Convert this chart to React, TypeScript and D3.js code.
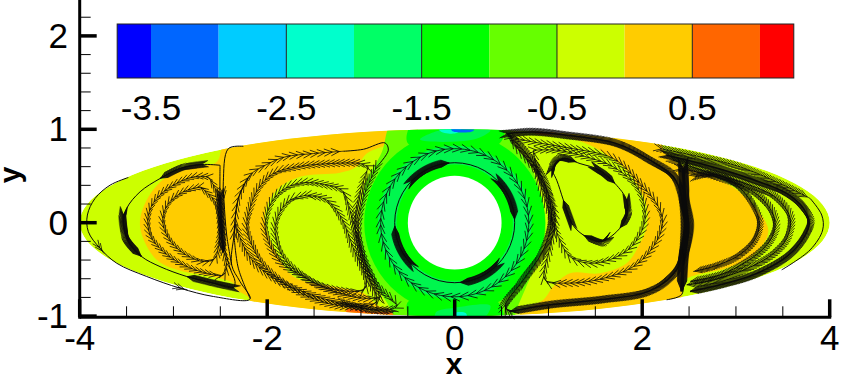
import React, { useEffect, useRef } from 'react';
import * as d3 from 'd3';

type Pt = [number, number];

const WIDTH = 850;
const HEIGHT = 378;

// colour bar
const levelEdges = [-3.75, -3.5, -3, -2.5, -2, -1.5, -1, -0.5, 0, 0.5, 1, 1.25];
const levelColors = ['#0000ff', '#0066ff', '#00ccff', '#00ffcc', '#00ff66', '#00ff00', '#66ff00', '#ccff00', '#ffcc00', '#ff6600', '#ff0000'];
const ringMid = '#00f64e';
const barLabels = [-3.5, -2.5, -1.5, -0.5, 0.5];
const barLines = [-2.5, -1.5, -0.5, 0.5];

// axes
const xMajor = [-4, -2, 0, 2, 4];
const xMinor = [-3.5, -3, -2.5, -1.5, -1, -0.5, 0.5, 1, 1.5, 2.5, 3, 3.5];
const yMajor = [-1, 0, 1, 2];
const yMinor = [-0.8, -0.6, -0.4, -0.2, 0.2, 0.4, 0.6, 0.8, 1.2, 1.4, 1.6, 1.8, 2.2];

// contour bands
const orangeLeft: Pt[] = [[-2.539, .651], [-2.432, .882], [-.405, 1.13], [-.405, .971], [-.939, .74], [-1.045, .598], [-1.223, .534], [-1.65, .491], [-1.899, .349], [-2.023, .1], [-2.005, -.078], [-1.899, -.327], [-1.721, -.576], [-1.294, -.683], [-.974, -.754], [-.832, -.879], [-.548, -1.003], [-.583, -1.18], [-2.29, -1.18], [-2.183, -.825], [-2.325, -.719], [-2.361, -.647], [-2.681, -.559], [-2.894, -.523], [-3.179, -.398], [-3.356, -.043], [-3.285, .242], [-3.072, .491], [-2.788, .598]];
const orangeRight: Pt[] = [[.945, -.825], [1.052, -.683], [1.23, -.541], [1.55, -.541], [1.834, -.434], [1.977, -.221], [2.048, -.043], [2.048, .171], [1.977, .349], [1.834, .562], [1.656, .704], [1.443, .829], [1.194, .918], [.839, .96], [.65, 1.1], [2.19, .95], [2.226, .776], [2.421, .616], [2.617, .545], [2.937, .402], [3.186, .189], [3.346, -.095], [3.186, -.345], [2.901, -.487], [2.581, -.558], [2.439, -.629], [2.421, -.807], [2.368, -.95], [2, -1.1], [.8, -1.1], [.697, -.968]];
const redBottom: Pt[] = [[-1.15, -.93], [-.9, -.95], [-.62, -.985], [-.6, -1.1], [-1.1, -1.1]];
const redTop: Pt[] = [[.78, .99], [1.05, .95], [1.1, 1.05], [.8, 1.05]];
const limeAroundRing: Pt[] = [[-.64, 1.1], [-.78, .75], [-.95, .42], [-1.01, 0], [-.97, -.38], [-.85, -.65], [-.72, -.86], [-.55, -1.1], [.6, -1.1], [.66, -.93], [.8, -.6], [.93, -.3], [.97, 0], [.92, .3], [.8, .62], [.62, .85], [.55, 1.1]];
const greenTop: Pt[] = [[-.42, 1.1], [-.5, .85], [.48, .85], [.5, 1.1]];
const greenBottom: Pt[] = [[-.42, -1.1], [-.5, -.85], [.46, -.85], [.5, -1.1]];
const paleTop: Pt[] = [[-.37, .89], [-.15, .99], [.38, .99], [.2, .89]];
const paleBottom: Pt[] = [[-.2, -.96], [0, -.91], [.38, -.89], [.28, -1.05], [-.2, -1.05]];
const cyanTop: Pt[] = [[-.16, .985], [.02, .96], [.1, 1.05], [-.16, 1.05]];
const blueTop: Pt[] = [[-.03, .985], [.2, .985], [.2, 1.05], [-.03, 1.05]];
const cyanBottom: Pt[] = [[0, -.97], [.12, -.97], [.12, -1.05], [0, -1.05]];

// ring bands round the hole, outer radius
const ringOuterBand = 0.965;
const ringMidBand = 0.82;
const ringInnerBand = 0.62;
const holeRadius = 0.5;
const ellipseAxes: Pt = [4, 1];

// streamlines
const l1: Pt[] = [[-3.481, .484], [-3.676, .402], [-3.836, .26], [-3.918, .082], [-3.908, -.096], [-3.783, -.274], [-3.605, -.434], [-3.285, -.576], [-2.93, -.701], [-2.574, -.79], [-2.183, -.818], [-2.29, -.63], [-2.379, -.452], [-2.354, -.132], [-2.308, .26], [-2.183, .509]];
const l1b: Pt[] = [[-2.379, -.452], [-2.432, -.132], [-2.46, .224], [-2.468, .438], [-2.414, .793], [-2.254, .818]];
const l2: Pt[] = [[-2.503, .615], [-2.699, .623], [-2.93, .58], [-3.143, .473], [-3.356, .331], [-3.499, .153], [-3.534, -.007], [-3.481, -.203], [-3.339, -.363], [-3.143, -.47], [-2.859, -.576], [-2.574, -.647], [-2.361, -.694], [-2.343, -.63], [-2.396, -.487], [-2.485, -.132], [-2.503, .224], [-2.503, .615]];
const l2TopBlob: Pt[] = [[-2.699, .623], [-2.93, .58], [-3.143, .473]];
const l2LeftBlob: Pt[] = [[-3.534, .09], [-3.534, -.007], [-3.481, -.203], [-3.339, -.363]];
const l2BottomBlob: Pt[] = [[-2.361, -.694], [-2.574, -.647], [-2.859, -.576]];
const l3: Pt[] = [[-2.628, .491], [-2.788, .491], [-3.001, .402], [-3.179, .26], [-3.268, .082], [-3.25, -.132], [-3.108, -.31], [-2.894, -.452], [-2.645, -.541], [-2.468, -.559], [-2.432, -.47], [-2.468, -.274], [-2.485, .011], [-2.539, .331], [-2.628, .491]];
const l4: Pt[] = [[-2.716, .384], [-2.894, .331], [-3.054, .206], [-3.115, .028], [-3.054, -.167], [-2.894, -.327], [-2.681, -.416], [-2.556, -.381], [-2.521, -.238], [-2.503, -.025], [-2.556, .224], [-2.716, .384]];
const leftColumn: Pt[] = [[-2.5, .3], [-2.49, 0], [-2.47, -.32]];
const loneArrows: Pt[][] = [
  [[-3.8, -.25], [-3.74, -.33]],
  [[-2.95, -.69], [-2.85, -.72]],
  [[-2.47, .33], [-2.46, .26]],
];

const m1Start: Pt[] = [[-2.183, -.808], [-2.308, -.487], [-2.354, -.132]];
const m1Head: Pt[] = [[-1.188, .765], [-.974, .786], [-.743, .854], [-.708, .776], [-.832, .598]];
const m1: Pt[] = [[-2.354, -.132], [-2.308, .26], [-2.183, .509], [-2.005, .623], [-1.81, .704], [-1.508, .74], [-1.188, .765]];
const m1Tail: Pt[] = [[-.832, .598], [-.939, .366], [-1.01, .117], [-1.028, -.132], [-.974, -.381], [-.832, -.665], [-.619, -.896], [-.832, -.932], [-1.223, -.861], [-1.579, -.754], [-1.899, -.612], [-2.148, -.416], [-2.272, -.203], [-2.343, .011]];
const m2: Pt[] = [[-.921, .598], [-1.01, .633], [-1.33, .633], [-1.685, .598], [-1.934, .527], [-2.094, .366], [-2.183, .153], [-2.219, -.06], [-2.148, -.274], [-2.041, -.452], [-1.792, -.665], [-1.472, -.825], [-1.152, -.896], [-.832, -.843], [-.885, -.665], [-.992, -.381], [-1.063, -.025], [-1.028, .26], [-.921, .598]];
const m3: Pt[] = [[-1.152, .26], [-1.205, .349], [-1.365, .402], [-1.614, .43], [-1.81, .366], [-1.952, .224], [-2.023, -.025], [-1.988, -.203], [-1.863, -.416], [-1.65, -.559], [-1.33, -.719], [-.974, -.808], [-.796, -.79], [-.832, -.701], [-.956, -.416], [-1.063, -.06], [-1.152, .26]];
const m4: Pt[] = [[-1.579, .295], [-1.756, .242], [-1.863, .117], [-1.917, -.06], [-1.863, -.31], [-1.721, -.487], [-1.401, -.683], [-.974, -.719], [-.939, -.63], [-1.081, -.274], [-1.205, .046], [-1.365, .242], [-1.579, .295]];
const m5: Pt[] = [[-1.2, -.85], [-.9, -.93], [-.62, -.95]];

const n1: Pt[] = [[1.034, .562], [1.159, .687], [1.337, .633], [1.55, .562], [1.71, .42], [1.834, .242], [1.834, .064], [1.728, -.096], [1.55, -.203], [1.372, -.132], [1.248, -.007], [1.159, .242], [1.088, .455], [1.034, .562]];
const n1Blobs: Pt[][] = [
  [[1.034, .562], [1.09, .655], [1.159, .687], [1.3, .65]],
  [[1.5, .585], [1.62, .5], [1.71, .42]],
  [[1.834, .242], [1.834, .064], [1.76, -.06]],
  [[1.62, -.17], [1.55, -.203], [1.372, -.132]],
  [[1.248, -.007], [1.159, .242]],
];
const n2: Pt[] = [[.839, .776], [1.088, .776], [1.408, .704], [1.692, .598], [1.941, .384], [2.03, .135], [2.012, -.043], [1.887, -.256], [1.692, -.381], [1.443, -.434], [1.23, -.363], [1.105, -.149], [1.016, .1], [.91, .42], [.839, .776]];
const n3: Pt[] = [[.59, .918], [.839, .864], [1.266, .793], [1.692, .687], [1.977, .42], [2.172, .171], [2.218, -.007], [2.119, -.256], [1.906, -.47], [1.55, -.605], [1.194, -.647], [.963, -.612], [1.016, -.256], [1.07, .064], [.91, .491], [.661, .811], [.59, .918]];
const n4Top: Pt[] = [[.554, .953], [.839, .971], [1.194, .936], [1.728, .847], [2.084, .669], [2.332, .491], [2.421, .277], [2.446, -.149], [2.386, -.47], [2.225, -.647], [2.012, -.754], [1.55, -.825], [1.016, -.879], [.59, -.95]];
const n4Left: Pt[] = [[.59, -.95], [.537, -.896], [.732, -.612], [.945, -.292], [1.034, .064], [.945, .455], [.732, .776], [.554, .953]];

const f1Thin: Pt[] = [[3.791, .26], [3.915, .082], [3.925, -.078], [3.791, -.291], [3.488, -.505]];
const f1: Pt[] = [[2.19, .794], [2.617, .705], [3.043, .598], [3.47, .42], [3.791, .26]];
const f2: Pt[] = [[2.261, .723], [2.688, .616], [3.15, .473], [3.541, .313], [3.719, .153], [3.783, -.007], [3.719, -.167], [3.541, -.363], [3.186, -.558], [2.83, -.665], [2.51, -.736]];
const f3: Pt[] = [[2.332, .67], [2.688, .545], [3.15, .402], [3.435, .26], [3.578, .047], [3.541, -.167], [3.381, -.345], [3.043, -.522], [2.688, -.629], [2.474, -.665]];
const f4: Pt[] = [[2.403, .58], [2.795, .491], [3.186, .331], [3.382, .118], [3.417, -.06], [3.328, -.238], [3.115, -.416], [2.83, -.558], [2.51, -.629]];
const f5: Pt[] = [[2.567, .491], [2.78, .516], [3.03, .384], [3.2, .153], [3.25, -.025], [3.186, -.203], [3.008, -.363], [2.759, -.469], [2.546, -.522]];
const f6: Pt[] = [[2.439, .58], [2.457, .224], [2.49, -.06], [2.439, -.416], [2.421, -.736]];
const f7: Pt[] = [[2.261, -.825], [2.421, -.77], [2.439, -.59]];

// ring streamlines round the hole, radius and dense spans in degrees from +x
const ringOuter = 0.79;
const ringInner = 0.64;
const ringBlobs: Pt[] = [[136, 95], [43, 3], [-46, -85], [223, 183]];

// [points, spacing, barb length, line width]; spacing 0 means plain line
const streamlines: [Pt[], number, number, number][] = [
  [l1, 0, 0, 1], [l1b, 0, 0, 1], [m1Start, 0, 0, 1], [f1Thin, 0, 0, 1], [f7, 0, 0, 1], [n1, 0, 0, 1],
  [l2, 0, 0, 1], [l2TopBlob, 1.2, 8, 1], [l2LeftBlob, 1, 9, 1.5], [l2BottomBlob, 1.2, 8, 1],
  [l3, 5, 8, .8], [l4, 5, 8, .8], [leftColumn, 1.5, 8, 2],
  ...loneArrows.map((b): [Pt[], number, number, number] => [b, 4, 8, .8]),
  [m1, 7, 9, .8], [m1Head, 0, 0, 1], [m1Tail, 5, 9, .8], [m2, 5, 9, .8], [m3, 5, 9, .8], [m4, 5, 9, .8], [m5, 3, 8, .8],
  [n2, 6, 9, .8], [n3, 6, 9, .8], [n4Top, 1.5, 9, 1.5], [n4Left, 2.5, 10, 1],
  [f1, 3.5, 9, .8], [f2, 1.5, 9, 1.5], [f3, 3, 9, 1], [f4, 3, 9, 1], [f5, 2.5, 8, 1], [f6, 1, 12, 3],
  ...n1Blobs.map((b): [Pt[], number, number, number] => [b, 1, 8, 1]),
];

const x = d3.scaleLinear().domain([-4, 4]).range([79.7, 829.7]);
const y = d3.scaleLinear().domain([-1, 2]).range([316.1, 35.9]);
const barX = d3.scaleLinear().domain([-3.5, 0.5]).range([151, 692.3]);
const BAR_TOP = 24;
const BAR_BOTTOM = 78;
const AXIS_Y = 317.3;
const AXIS_X = 79.7;
const LABEL_SIZE = 35;

const blob = d3.line<Pt>().x(d => x(d[0])).y(d => y(d[1])).curve(d3.curveCatmullRomClosed.alpha(0.5));
const smooth = d3.line<Pt>().x(d => x(d[0])).y(d => y(d[1])).curve(d3.curveCatmullRom.alpha(0.5));

function barbs(node: SVGPathElement, spacing: number, len: number) {
  const total = node.getTotalLength();
  const p = d3.path();
  const spread = 0.42;
  for (let s = spacing / 2; s < total; s += spacing) {
    const a = node.getPointAtLength(s);
    const b = node.getPointAtLength(Math.min(total, s + 0.5));
    const ang = Math.atan2(b.y - a.y, b.x - a.x);
    for (const sign of [-1, 1]) {
      p.moveTo(a.x, a.y);
      p.lineTo(a.x - len * Math.cos(ang + sign * spread), a.y - len * Math.sin(ang + sign * spread));
    }
  }
  return p.toString();
}

export default function App() {
  const flowRef = useRef<SVGGElement>(null);

  useEffect(() => {
    const g = d3.select(flowRef.current);
    g.selectAll('*').remove();

    const addLine = (d: string, spacing: number, len: number, w: number) => {
      const el = g.append('path').attr('d', d).attr('fill', 'none').attr('stroke', '#0a0a0a').attr('stroke-width', w);
      if (spacing > 0) {
        g.append('path')
          .attr('d', barbs(el.node() as SVGPathElement, spacing, len))
          .attr('fill', 'none').attr('stroke', '#0a0a0a').attr('stroke-width', 0.8);
      }
    };

    streamlines.forEach(([pts, spacing, len, w]) => addLine(smooth(pts) as string, spacing, len, w));

    // rings round the hole run clockwise
    const ringPath = (r: number, from: number, to: number) => {
      const px = x(r) - x(0);
      const p = d3.path();
      p.arc(x(0), y(0), px, -from * Math.PI / 180, -to * Math.PI / 180, false);
      return p.toString();
    };
    addLine(ringPath(ringOuter, 180, -179.9), 8.5, 10, 0.8);
    addLine(ringPath(ringInner, 180, -179.9), 0, 0, 1);
    ringBlobs.forEach(([a, b]) => addLine(ringPath(ringInner, a, b), 1, 9, 1));
  }, []);

  const clipEllipse = { cx: x(0), cy: y(0), rx: x(ellipseAxes[0]) - x(0), ry: y(0) - y(ellipseAxes[1]) };
  const ring = (r: number, fill: string) => <circle cx={x(0)} cy={y(0)} r={x(r) - x(0)} fill={fill} />;

  return (
    <svg width={WIDTH} height={HEIGHT} style={{ position: 'absolute', left: 0, top: 0, background: '#fff' }}
      fontFamily="'Liberation Sans', Arial, sans-serif">
      <defs>
        <clipPath id="dom"><ellipse {...clipEllipse} /></clipPath>
      </defs>

      <g clipPath="url(#dom)">
        <ellipse {...clipEllipse} fill={levelColors[7]} />
        <path d={blob(orangeLeft) as string} fill={levelColors[8]} />
        <path d={blob(orangeRight) as string} fill={levelColors[8]} />
        <path d={blob(redBottom) as string} fill={levelColors[9]} />
        <path d={blob(redTop) as string} fill={levelColors[9]} />
        <path d={blob(limeAroundRing) as string} fill={levelColors[6]} />
        <path d={blob(greenTop) as string} fill={levelColors[5]} />
        <path d={blob(greenBottom) as string} fill={levelColors[5]} />
        {ring(ringOuterBand, levelColors[5])}
        {ring(ringMidBand, ringMid)}
        {ring(ringInnerBand, levelColors[5])}
        <path d={blob(paleTop) as string} fill={ringMid} />
        <path d={blob(paleBottom) as string} fill={ringMid} />
        <path d={blob(cyanTop) as string} fill={levelColors[3]} />
        <path d={blob(cyanBottom) as string} fill={levelColors[3]} />
        <path d={blob(blueTop) as string} fill={levelColors[1]} />
      </g>
      {ring(holeRadius, '#fff')}

      <g ref={flowRef} />

      {/* colour bar */}
      {levelColors.map((c, i) => (
        <rect key={c} x={barX(levelEdges[i])} y={BAR_TOP} width={barX(levelEdges[i + 1]) - barX(levelEdges[i])} height={BAR_BOTTOM - BAR_TOP} fill={c} />
      ))}
      {barLines.map(v => (
        <line key={v} x1={barX(v)} x2={barX(v)} y1={BAR_TOP} y2={BAR_BOTTOM} stroke="#222" strokeWidth={1} />
      ))}
      <rect x={barX(-3.75)} y={BAR_TOP} width={barX(1.25) - barX(-3.75)} height={BAR_BOTTOM - BAR_TOP} fill="none" stroke="#222" strokeWidth={1} />
      {barLabels.map(v => (
        <text key={v} x={barX(v)} y={120} fontSize={LABEL_SIZE} textAnchor="middle" fill="#000">{v}</text>
      ))}

      {/* axes */}
      <line x1={AXIS_X} x2={AXIS_X} y1={0} y2={AXIS_Y + 1.5} stroke="#000" strokeWidth={3} />
      <line x1={AXIS_X} x2={x(4) + 1.5} y1={AXIS_Y} y2={AXIS_Y} stroke="#000" strokeWidth={3} />
      {xMajor.map(v => (
        <g key={v}>
          <line x1={x(v)} x2={x(v)} y1={AXIS_Y} y2={AXIS_Y - 18} stroke="#000" strokeWidth={3.5} />
          <text x={x(v)} y={350} fontSize={LABEL_SIZE} textAnchor="middle" fill="#000">{v}</text>
        </g>
      ))}
      {xMinor.map(v => (
        <line key={v} x1={x(v)} x2={x(v)} y1={AXIS_Y} y2={AXIS_Y - 11} stroke="#000" strokeWidth={1} />
      ))}
      {yMajor.map(v => (
        <g key={v}>
          <line x1={AXIS_X} x2={AXIS_X + 17} y1={y(v)} y2={y(v)} stroke="#000" strokeWidth={3.5} />
          <text x={68} y={y(v) + 12} fontSize={LABEL_SIZE} textAnchor="end" fill="#000">{v}</text>
        </g>
      ))}
      {yMinor.map(v => (
        <line key={v} x1={AXIS_X} x2={AXIS_X + 11} y1={y(v)} y2={y(v)} stroke="#000" strokeWidth={1} />
      ))}
      <text x={454} y={374} fontSize={30} fontWeight="bold" textAnchor="middle" fill="#000">x</text>
      <text transform="translate(20,175) rotate(-90)" fontSize={30} fontWeight="bold" textAnchor="middle" fill="#000">y</text>
    </svg>
  );
}
